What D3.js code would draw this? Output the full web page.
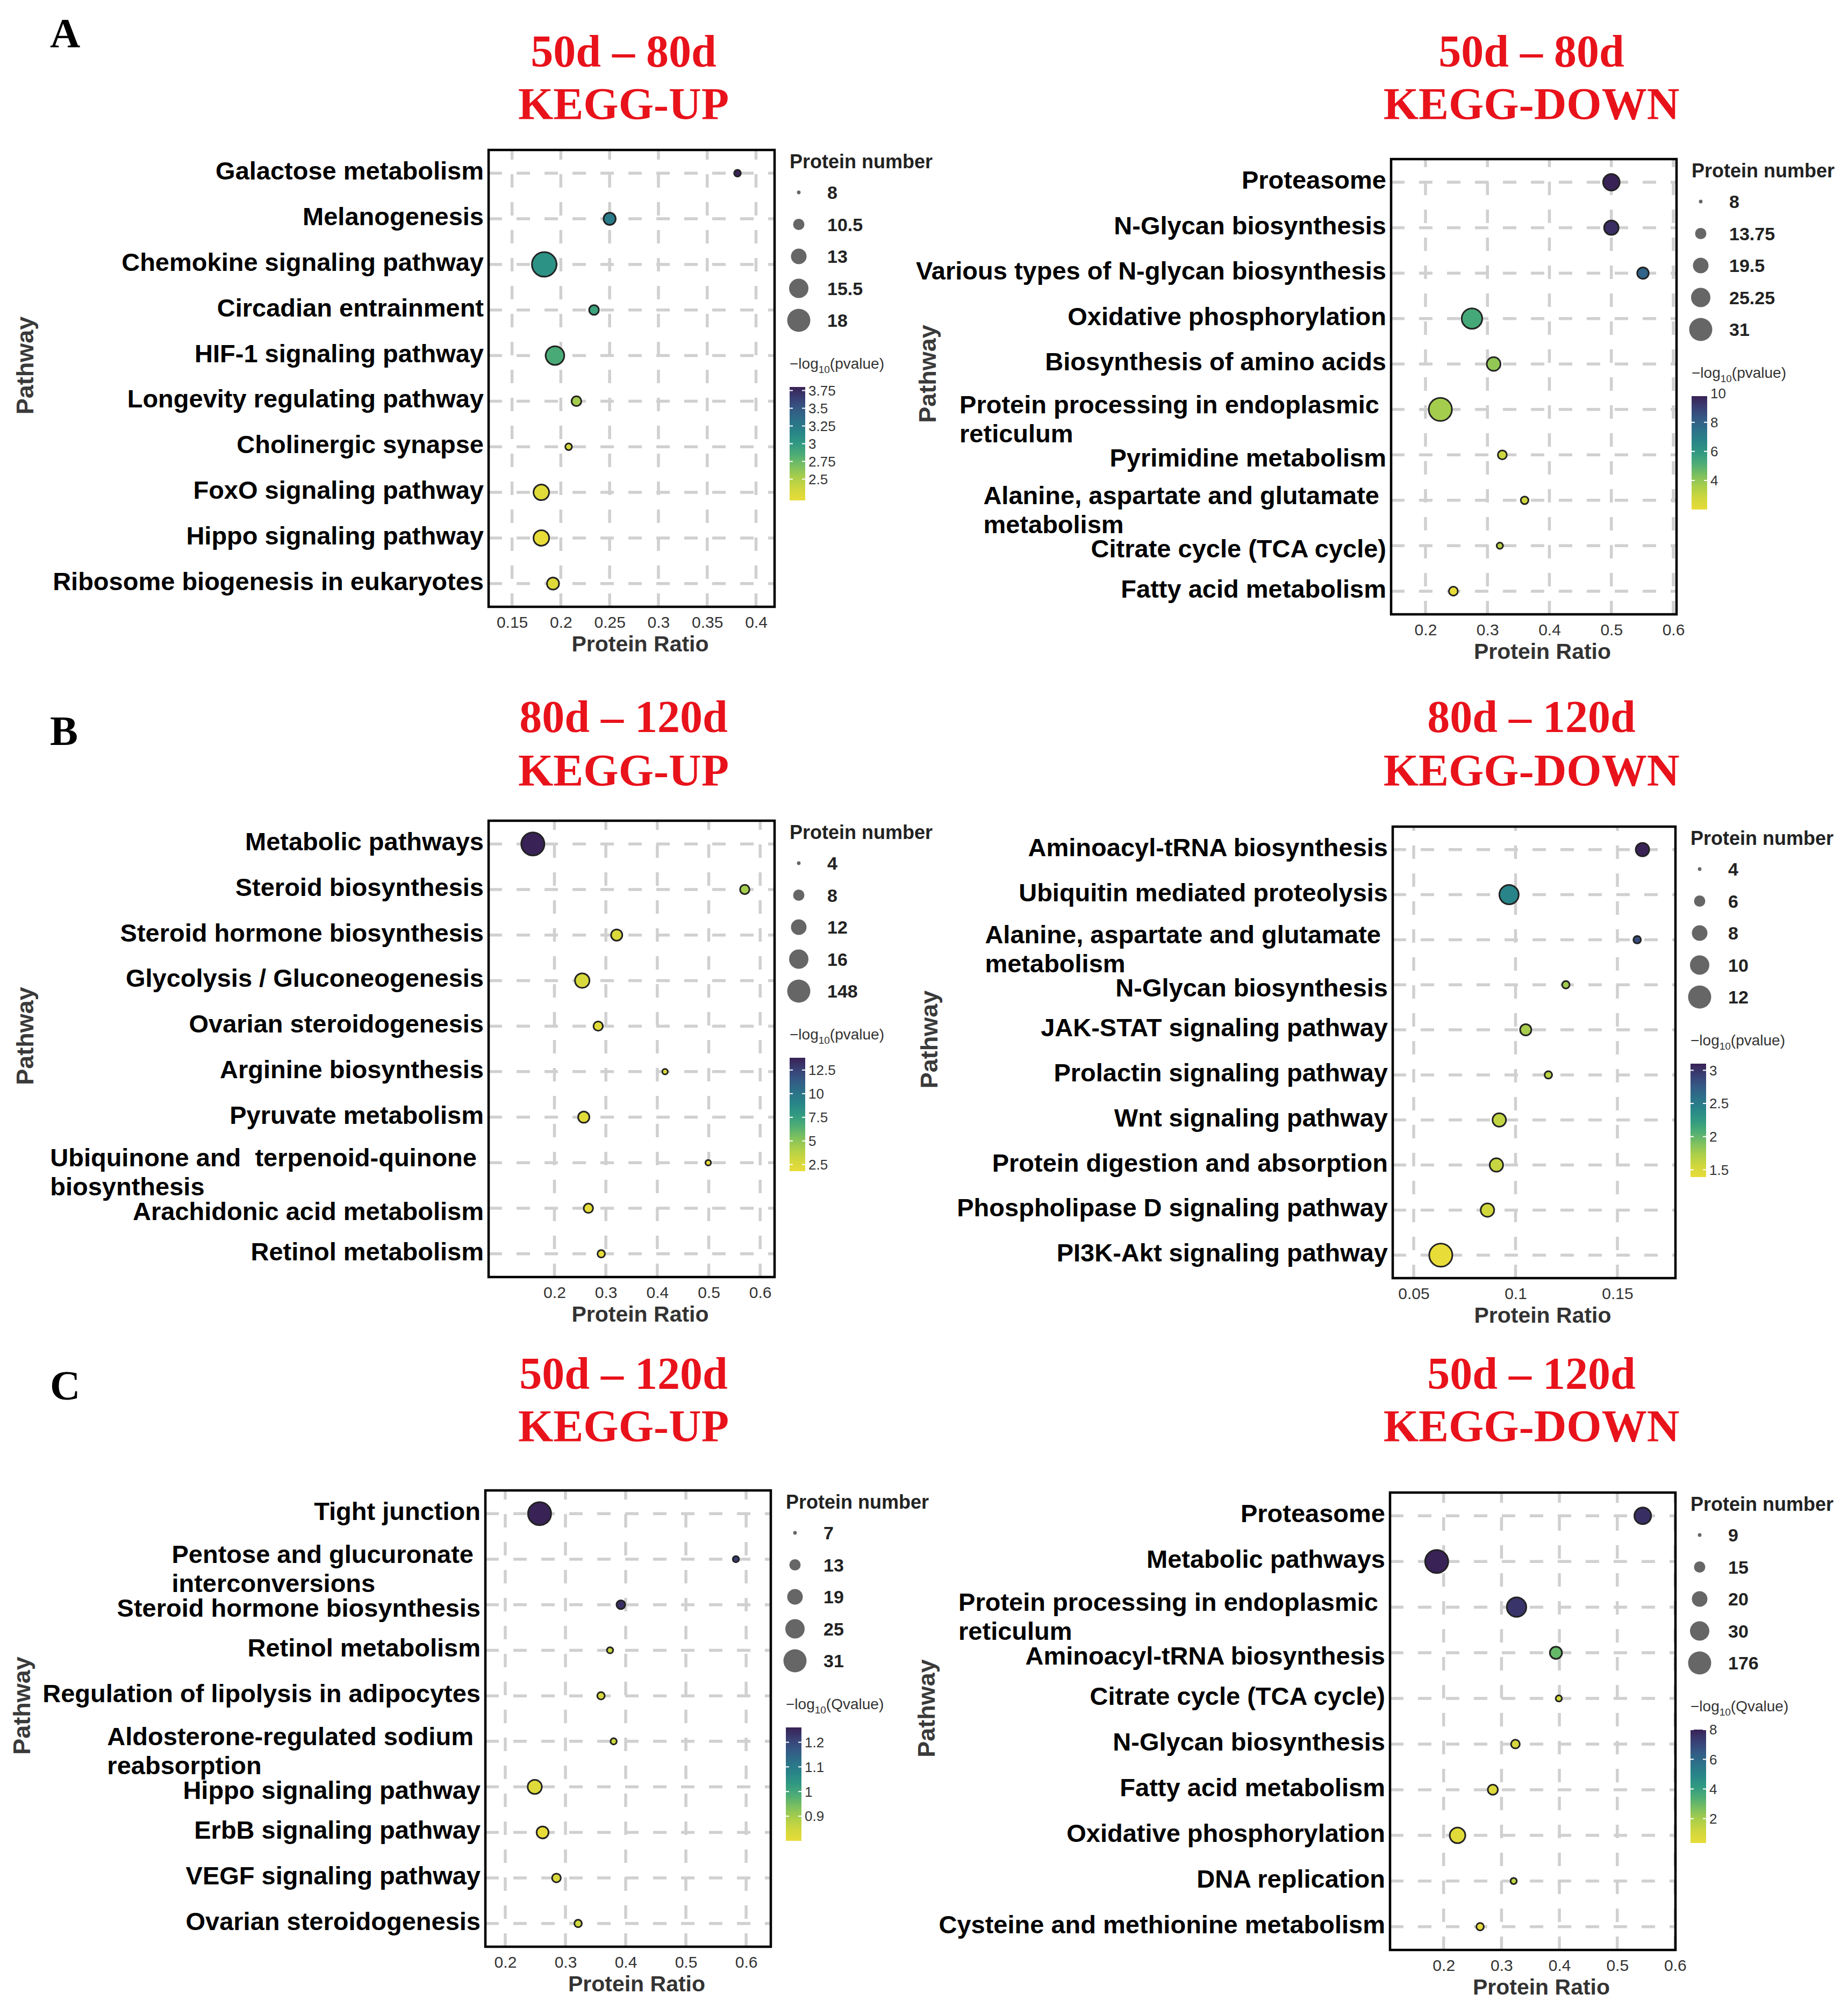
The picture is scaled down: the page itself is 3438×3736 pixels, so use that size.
<!DOCTYPE html>
<html>
<head>
<meta charset="utf-8">
<script src="https://cdn.jsdelivr.net/npm/d3@7"></script>
<style>
  body { margin: 0; background: #fff; }
  text { white-space: pre; }
</style>
</head>
<body>
<div id="chart"></div>
<script>
// ---- A: 50d - 80d ----
const upA_pathways = ['Galactose metabolism', 'Melanogenesis', 'Chemokine signaling pathway', 'Circadian entrainment',
  'HIF-1 signaling pathway', 'Longevity regulating pathway', 'Cholinergic synapse', 'FoxO signaling pathway',
  'Hippo signaling pathway', 'Ribosome biogenesis in eukaryotes']
const upA_ratio = [0.381, 0.250, 0.183, 0.234, 0.194, 0.216, 0.208, 0.180, 0.180, 0.192]
const upA_count = [9, 11, 19, 10, 15, 10, 9, 13, 13, 11]
const upA_logp = [3.80, 3.24, 3.05, 2.92, 2.86, 2.55, 2.33, 2.25, 2.20, 2.28]
const upA_sizeBreaks = [8, 10.5, 13, 15.5, 18]
const upA_colorTicks = [2.5, 2.75, 3, 3.25, 3.5, 3.75]
const upA_xTicks = [0.15, 0.2, 0.25, 0.3, 0.35, 0.4]

const downA_pathways = ['Proteasome', 'N-Glycan biosynthesis', 'Various types of N-glycan biosynthesis',
  'Oxidative phosphorylation', 'Biosynthesis of amino acids', 'Protein processing in endoplasmic \nreticulum',
  'Pyrimidine metabolism', 'Alanine, aspartate and glutamate \nmetabolism', 'Citrate cycle (TCA cycle)',
  'Fatty acid metabolism']
const downA_ratio = [0.500, 0.500, 0.551, 0.275, 0.310, 0.224, 0.324, 0.360, 0.320, 0.245]
const downA_count = [21, 18, 14, 27, 17, 31, 12, 11, 10, 12]
const downA_logp = [9.8, 9.5, 7.9, 5.3, 4.0, 3.7, 2.9, 2.8, 3.3, 2.0]
const downA_sizeBreaks = [8, 13.75, 19.5, 25.25, 31]
const downA_colorTicks = [4, 6, 8, 10]
const downA_xTicks = [0.2, 0.3, 0.4, 0.5, 0.6]

// ---- B: 80d - 120d ----
const upB_pathways = ['Metabolic pathways', 'Steroid biosynthesis', 'Steroid hormone biosynthesis',
  'Glycolysis / Gluconeogenesis', 'Ovarian steroidogenesis', 'Arginine biosynthesis', 'Pyruvate metabolism',
  'Ubiquinone and  terpenoid-quinone \nbiosynthesis', 'Arachidonic acid metabolism', 'Retinol metabolism']
const upB_ratio = [0.158, 0.570, 0.321, 0.254, 0.285, 0.415, 0.257, 0.499, 0.266, 0.291]
const upB_count = [148, 7, 8, 11, 7, 5, 8, 5, 7, 6]
const upB_logp = [13.8, 4.4, 2.6, 2.7, 2.2, 2.4, 2.2, 2.0, 2.0, 1.8]
const upB_sizeBreaks = [4, 8, 12, 16, 148]
const upB_colorTicks = [2.5, 5, 7.5, 10, 12.5]
const upB_xTicks = [0.2, 0.3, 0.4, 0.5, 0.6]

const downB_pathways = ['Aminoacyl-tRNA biosynthesis', 'Ubiquitin mediated proteolysis',
  'Alanine, aspartate and glutamate \nmetabolism', 'N-Glycan biosynthesis', 'JAK-STAT signaling pathway',
  'Prolactin signaling pathway', 'Wnt signaling pathway', 'Protein digestion and absorption',
  'Phospholipase D signaling pathway', 'PI3K-Akt signaling pathway']
const downB_ratio = [0.1623, 0.0968, 0.1597, 0.1247, 0.1050, 0.1161, 0.0920, 0.0906, 0.0862, 0.0633]
const downB_count = [7, 10, 5, 5, 6, 5, 7, 7, 7, 12]
const downB_logp = [3.10, 2.42, 2.85, 1.78, 1.75, 1.68, 1.64, 1.62, 1.56, 1.39]
const downB_sizeBreaks = [4, 6, 8, 10, 12]
const downB_colorTicks = [1.5, 2, 2.5, 3]
const downB_xTicks = [0.05, 0.1, 0.15]

// ---- C: 50d - 120d ----
const upC_pathways = ['Tight junction', 'Pentose and glucuronate \ninterconversions', 'Steroid hormone biosynthesis',
  'Retinol metabolism', 'Regulation of lipolysis in adipocytes', 'Aldosterone-regulated sodium \nreabsorption',
  'Hippo signaling pathway', 'ErbB signaling pathway', 'VEGF signaling pathway', 'Ovarian steroidogenesis']
const upC_ratio = [0.257, 0.583, 0.392, 0.374, 0.359, 0.380, 0.249, 0.262, 0.285, 0.321]
const upC_count = [31, 9, 11, 9, 10, 9, 17, 14, 11, 10]
const upC_logq = [1.26, 1.22, 1.24, 0.86, 0.84, 0.85, 0.82, 0.80, 0.83, 0.85]
const upC_sizeBreaks = [7, 13, 19, 25, 31]
const upC_colorTicks = [0.9, 1, 1.1, 1.2]
const upC_xTicks = [0.2, 0.3, 0.4, 0.5, 0.6]

const downC_pathways = ['Proteasome', 'Metabolic pathways', 'Protein processing in endoplasmic \nreticulum',
  'Aminoacyl-tRNA biosynthesis', 'Citrate cycle (TCA cycle)', 'N-Glycan biosynthesis', 'Fatty acid metabolism',
  'Oxidative phosphorylation', 'DNA replication', 'Cysteine and methionine metabolism']
const downC_ratio = [0.544, 0.188, 0.326, 0.394, 0.399, 0.324, 0.285, 0.224, 0.321, 0.263]
const downC_count = [23, 176, 35, 16, 11, 13, 14, 20, 11, 12]
const downC_logq = [7.7, 8.0, 7.5, 3.0, 1.1, 1.0, 0.8, 0.6, 1.5, 0.36]
const downC_sizeBreaks = [9, 15, 20, 30, 176]
const downC_colorTicks = [2, 4, 6, 8]
const downC_xTicks = [0.2, 0.3, 0.4, 0.5, 0.6]

// radii used for the 5 size legend keys (every panel)
const KEY_RADII = [3.4, 10.5, 14.5, 18, 21.5]
// muted viridis, dark = most significant
const PALETTE = ['#392256', '#3a4c84', '#2c6f8a', '#248a88', '#3aa77e', '#85c55a', '#c9d63e', '#e8dc38']

const SANS = "'Liberation Sans', Arial, Helvetica, sans-serif"
const SERIF = "'Liberation Serif', 'Times New Roman', Times, serif"
const RED = '#e8121b'

const panels = [
  { id: 'a-up', box: [909, 1441, 279, 1129], xDomain: [0.126, 0.419], pathways: upA_pathways, ratio: upA_ratio,
    count: upA_count, sig: upA_logp, sizeBreaks: upA_sizeBreaks, colorTicks: upA_colorTicks, xTicks: upA_xTicks, q: false },
  { id: 'a-down', box: [2588, 3119, 296, 1143], xDomain: [0.1445, 0.6052], pathways: downA_pathways, ratio: downA_ratio,
    count: downA_count, sig: downA_logp, sizeBreaks: downA_sizeBreaks, colorTicks: downA_colorTicks, xTicks: downA_xTicks, q: false },
  { id: 'b-up', box: [909, 1441, 1527, 2376], xDomain: [0.072, 0.628], pathways: upB_pathways, ratio: upB_ratio,
    count: upB_count, sig: upB_logp, sizeBreaks: upB_sizeBreaks, colorTicks: upB_colorTicks, xTicks: upB_xTicks, q: false },
  { id: 'b-down', box: [2591, 3117, 1538, 2378], xDomain: [0.0397, 0.1785], pathways: downB_pathways, ratio: downB_ratio,
    count: downB_count, sig: downB_logp, sizeBreaks: downB_sizeBreaks, colorTicks: downB_colorTicks, xTicks: downB_xTicks, q: false },
  { id: 'c-up', box: [903, 1434, 2773, 3622], xDomain: [0.167, 0.641], pathways: upC_pathways, ratio: upC_ratio,
    count: upC_count, sig: upC_logq, sizeBreaks: upC_sizeBreaks, colorTicks: upC_colorTicks, xTicks: upC_xTicks, q: true },
  { id: 'c-down', box: [2586, 3117, 2777, 3628], xDomain: [0.1074, 0.6005], pathways: downC_pathways, ratio: downC_ratio,
    count: downC_count, sig: downC_logq, sizeBreaks: downC_sizeBreaks, colorTicks: downC_colorTicks, xTicks: downC_xTicks, q: true }
]

// titles: [centre x, baseline of line 1, baseline of line 2, line 1, line 2]
const titles = [
  [1160, 124, 222, '50d \u2013 80d', 'KEGG-UP'],
  [2849, 124, 222, '50d \u2013 80d', 'KEGG-DOWN'],
  [1160, 1362, 1462, '80d \u2013 120d', 'KEGG-UP'],
  [2849, 1362, 1462, '80d \u2013 120d', 'KEGG-DOWN'],
  [1160, 2584, 2682, '50d \u2013 120d', 'KEGG-UP'],
  [2849, 2584, 2682, '50d \u2013 120d', 'KEGG-DOWN']
]
const letters = [['A', 88], ['B', 1386], ['C', 2604]]

const svg = d3
  .select('#chart')
  .append('svg')
  .attr('width', 3438)
  .attr('height', 3736)
  .style('display', 'block')

svg.append('rect').attr('width', 3438).attr('height', 3736).attr('fill', '#fff')

const defs = svg.append('defs')

letters.forEach(([l, y]) => {
  svg.append('text')
    .text(l)
    .attr('x', 93)
    .attr('y', y)
    .attr('font-family', SERIF)
    .attr('font-weight', 'bold')
    .attr('font-size', 78)
})

titles.forEach(([cx, y1, y2, t1, t2]) => {
  [[t1, y1], [t2, y2]].forEach(([t, y]) => {
    svg.append('text')
      .text(t)
      .attr('x', cx)
      .attr('y', y)
      .attr('text-anchor', 'middle')
      .attr('font-family', SERIF)
      .attr('font-weight', 'bold')
      .attr('font-size', 84)
      .attr('fill', RED)
  })
})

panels.forEach(drawPanel)

function drawPanel (p) {
  const [x0, x1, y0, y1] = p.box
  const g = svg.append('g').attr('class', 'panel ' + p.id)

  const xScale = d3.scaleLinear().domain(p.xDomain).range([x0, x1])
  const yScale = d3.scalePoint().domain(p.pathways).range([y0, y1]).padding(0.51)
  const rScale = d3.scaleLinear().domain(p.sizeBreaks).range(KEY_RADII)
  const ext = d3.extent(p.sig)
  const colorScale = d3.scaleSequential(d3.interpolateRgbBasis(PALETTE)).domain([ext[1], ext[0]])

  g.append('rect')
    .attr('x', x0).attr('y', y0)
    .attr('width', x1 - x0).attr('height', y1 - y0)
    .attr('fill', '#fff')

  // dashed grid, vertical lines start at the bottom like ggplot
  g.selectAll('.vgrid')
    .data(p.xTicks)
    .enter()
    .append('line')
    .attr('class', 'vgrid')
    .attr('x1', d => xScale(d)).attr('x2', d => xScale(d))
    .attr('y1', y1).attr('y2', y0)
    .attr('stroke', '#d0d0d0')
    .attr('stroke-width', 5.5)
    .attr('stroke-dasharray', '25,27')

  g.selectAll('.hgrid')
    .data(p.pathways)
    .enter()
    .append('line')
    .attr('class', 'hgrid')
    .attr('x1', x0).attr('x2', x1)
    .attr('y1', d => yScale(d)).attr('y2', d => yScale(d))
    .attr('stroke', '#d0d0d0')
    .attr('stroke-width', 5.5)
    .attr('stroke-dasharray', '25,27')

  // points
  g.selectAll('.pt')
    .data(p.pathways.map((name, i) => ({ name, ratio: p.ratio[i], count: p.count[i], sig: p.sig[i] })))
    .enter()
    .append('circle')
    .attr('class', 'pt')
    .attr('cx', d => xScale(d.ratio))
    .attr('cy', d => yScale(d.name))
    .attr('r', d => rScale(d.count))
    .attr('fill', d => colorScale(d.sig))
    .attr('stroke', '#222')
    .attr('stroke-width', 3)

  g.append('rect')
    .attr('x', x0).attr('y', y0)
    .attr('width', x1 - x0).attr('height', y1 - y0)
    .attr('fill', 'none')
    .attr('stroke', '#000')
    .attr('stroke-width', 4.5)

  // pathway labels (multi-line ones are left justified inside a right-aligned block)
  const labelRight = x0 - 9
  const fs = 47
  p.pathways.forEach((name, i) => {
    const cy = yScale(name) - 5
    const lines = name.split('\n')
    const prevMulti = i > 0 && p.pathways[i - 1].includes('\n')
    if (lines.length === 1) {
      g.append('text')
        .text(name)
        .attr('x', labelRight)
        .attr('y', cy + 0.36 * fs + (prevMulti ? 10 : 0))
        .attr('text-anchor', 'end')
        .attr('font-family', SANS)
        .attr('font-weight', 'bold')
        .attr('font-size', fs)
    } else {
      const first = g.append('text')
        .text(lines[0])
        .attr('x', labelRight)
        .attr('y', cy - 5 + 0.36 * fs)
        .attr('text-anchor', 'end')
        .attr('font-family', SANS)
        .attr('font-weight', 'bold')
        .attr('font-size', fs)
      const w = first.node().getComputedTextLength()
      g.append('text')
        .text(lines[1])
        .attr('x', labelRight - w)
        .attr('y', cy + 49 + 0.36 * fs)
        .attr('font-family', SANS)
        .attr('font-weight', 'bold')
        .attr('font-size', fs)
    }
  })

  // x axis labels
  const xAxis = d3.axisBottom(xScale)
    .tickValues(p.xTicks)
    .tickSize(0)
    .tickPadding(18)
    .tickFormat(d3.format('~g'))
  const ax = g.append('g')
    .attr('class', 'axis x-axis')
    .attr('transform', 'translate(0,' + y1 + ')')
    .call(xAxis)
  ax.select('.domain').remove()
  ax.selectAll('text')
    .attr('font-family', SANS)
    .attr('font-size', 30)
    .attr('fill', '#333')

  g.append('text')
    .text('Protein Ratio')
    .attr('x', (x0 + x1) / 2 + 16)
    .attr('y', y1 + 83)
    .attr('text-anchor', 'middle')
    .attr('font-family', SANS)
    .attr('font-weight', 'bold')
    .attr('font-size', 41)
    .attr('fill', '#333')

  g.append('text')
    .text('Pathway')
    .attr('transform', 'translate(' + (x0 - 863) + ',' + ((y0 + y1) / 2 - 24) + ') rotate(-90)')
    .attr('dy', '0.36em')
    .attr('text-anchor', 'middle')
    .attr('font-family', SANS)
    .attr('font-weight', 'bold')
    .attr('font-size', 45)
    .attr('fill', '#3a3a3a')

  // size legend
  const lx = x1 + 28
  g.append('text')
    .text('Protein number')
    .attr('x', lx)
    .attr('y', y0 + 21 + 0.36 * 36)
    .attr('font-family', SANS)
    .attr('font-weight', 'bold')
    .attr('font-size', 36)
    .attr('fill', '#222')

  p.sizeBreaks.forEach((b, i) => {
    const cy = y0 + 79 + i * 59.5
    g.append('circle')
      .attr('cx', x1 + 45)
      .attr('cy', cy)
      .attr('r', rScale(b))
      .attr('fill', '#666')
    g.append('text')
      .text(String(b))
      .attr('x', x1 + 98)
      .attr('y', cy + 0.36 * 34)
      .attr('font-family', SANS)
      .attr('font-weight', 'bold')
      .attr('font-size', 34)
      .attr('fill', '#222')
  })

  // colour legend
  const ct = g.append('text')
    .attr('x', lx)
    .attr('y', y0 + 399 + 8)
    .attr('font-family', SANS)
    .attr('font-size', 28)
    .attr('fill', '#333')
  ct.append('tspan').text('\u2212log')
  ct.append('tspan').text('10').attr('font-size', 19).attr('dy', 8)
  ct.append('tspan').text(p.q ? '(Qvalue)' : '(pvalue)').attr('dy', -8)

  const barTop = y0 + 441
  const barH = 211
  const barW = 29
  const grad = defs.append('linearGradient')
    .attr('id', 'grad-' + p.id)
    .attr('x1', 0).attr('y1', 0).attr('x2', 0).attr('y2', 1)
  d3.range(0, 1.0001, 0.1).forEach(t => {
    grad.append('stop')
      .attr('offset', t)
      .attr('stop-color', colorScale(ext[1] - t * (ext[1] - ext[0])))
  })
  g.append('rect')
    .attr('x', lx).attr('y', barTop)
    .attr('width', barW).attr('height', barH)
    .attr('fill', 'url(#grad-' + p.id + ')')

  const cbScale = d3.scaleLinear().domain(ext).range([barTop + barH, barTop])
  p.colorTicks.forEach(t => {
    const cy = cbScale(t)
    g.append('line')
      .attr('x1', lx).attr('x2', lx + 6)
      .attr('y1', cy).attr('y2', cy)
      .attr('stroke', '#fff').attr('stroke-width', 2)
    g.append('line')
      .attr('x1', lx + barW - 6).attr('x2', lx + barW)
      .attr('y1', cy).attr('y2', cy)
      .attr('stroke', '#fff').attr('stroke-width', 2)
    g.append('text')
      .text(String(t))
      .attr('x', lx + barW + 6)
      .attr('y', cy + 0.36 * 26)
      .attr('font-family', SANS)
      .attr('font-size', 26)
      .attr('fill', '#333')
  })
}
</script>
</body>
</html>
